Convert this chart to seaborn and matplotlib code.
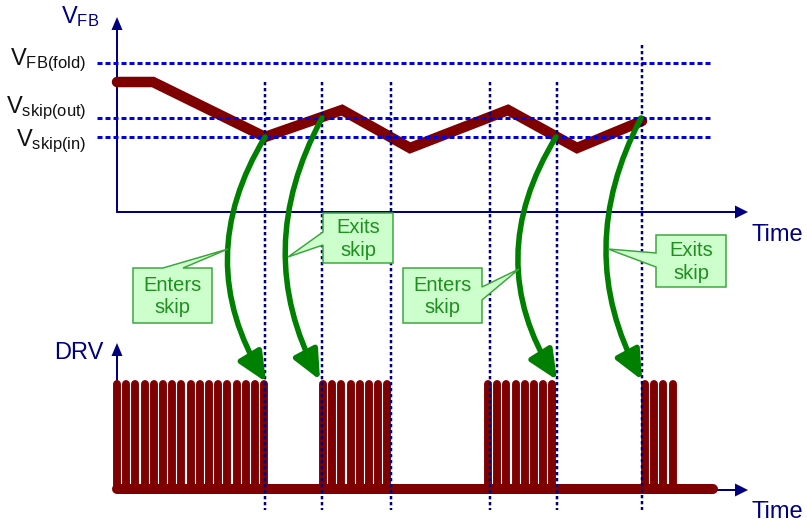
import numpy as np
import pandas as pd
import seaborn as sns
import matplotlib.pyplot as plt
from matplotlib.path import Path
from matplotlib.patches import FancyArrowPatch, Polygon

# diagram is laid out in pixel units (807 x 529, y grows downwards)
PX = 0.72  # one pixel in points at dpi=100

# V_FB waveform corners (time, level)
vfb_t = [117, 153, 265, 342, 410, 508, 577, 642]
vfb_v = [82, 82, 137, 110, 148, 110, 148, 121]

# threshold levels and their names
levels = [63, 118, 137]
level_names = [r'$\mathrm{V_{FB(fold)}}$', r'$\mathrm{V_{skip(out)}}$', r'$\mathrm{V_{skip(in)}}$']
level_base = [65, 113, 146]

# skip enter / exit instants
events = [265, 322, 391, 490, 557, 642]
event_top = [82, 82, 82, 82, 82, 45]

# DRV bursts
burst_start = [117, 323, 488, 645]
burst_pulses = [17, 8, 8, 4]
period = 9.2

# green arrows: start on V_FB, bend, end on DRV
arrow_from = [(265, 137), (322, 118), (556, 137), (641, 118)]
arrow_bend = [(191, 259), (251, 250), (481, 259), (572, 250)]
arrow_to = [(266, 382), (320, 380), (557, 380), (642, 380)]

# callouts: text, box (x0, y0, x1, y1), pointer base points, pointer tip
call_text = ['Enters\nskip', 'Exits\nskip', 'Enters\nskip', 'Exits\nskip']
call_box = [(133, 268, 212, 323), (323, 213, 393, 263), (403, 268, 482, 323), (656, 235, 726, 287)]
call_base = [((163, 268), (183, 268)), ((323, 245), (323, 232)),
             ((482, 287), (482, 300)), ((656, 267), (656, 253))]
call_tip = [(228, 249), (288, 257), (519, 269), (608, 249)]

sns.set_style("white")
plt.rcParams['font.family'] = ['Liberation Sans', 'DejaVu Sans']
plt.rcParams['mathtext.fontset'] = 'custom'
plt.rcParams['mathtext.rm'] = 'Liberation Sans'
plt.rcParams['mathtext.it'] = 'Liberation Sans:italic'
plt.rcParams['lines.scale_dashes'] = False

navy = '#00007f'
blue = '#0000e6'
red = '#7f0000'
green = '#008000'

fig = plt.figure(figsize=(8.07, 5.29), dpi=100)
ax = fig.add_axes([0, 0, 1, 1])
ax.set_xlim(0, 807)
ax.set_ylim(529, 0)
ax.axis('off')

# axes with arrowheads
def axis_arrow(x0, y0, x1, y1):
    ax.plot([x0, x1], [y0, y1], color=navy, linewidth=2 * PX, zorder=2)
    if x0 == x1:
        tri = [(x1, y1 - 13), (x1 - 5.5, y1), (x1 + 5.5, y1)]
    else:
        tri = [(x1 + 13, y1), (x1, y1 - 6.5), (x1, y1 + 6.5)]
    ax.add_patch(Polygon(tri, closed=True, color=navy, lw=0, zorder=2))

axis_arrow(117, 212, 117, 30)
axis_arrow(117, 212, 735, 212)
axis_arrow(117, 490, 117, 356)
axis_arrow(117, 490, 735, 490)

# V_FB waveform
wave = pd.DataFrame({'t': vfb_t, 'v': vfb_v})
sns.lineplot(data=wave, x='t', y='v', sort=False, color=red, ax=ax, zorder=3)
for ln in ax.lines[-1:]:
    ln.set_linewidth(10.5 * PX)
    ln.set_solid_capstyle('round')
    ln.set_solid_joinstyle('miter')

# DRV pulses
for s, n in zip(burst_start, burst_pulses):
    for k in range(n):
        x = s + k * period
        ax.plot([x, x], [489, 384], color=red, linewidth=7.9 * PX,
                solid_capstyle='round', zorder=3)
ax.plot([117, 713], [489, 489], color=red, linewidth=10 * PX, solid_capstyle='round', zorder=3)

# threshold lines
for lv in levels:
    ax.plot([97, 712], [lv, lv], color=blue, linewidth=3 * PX, dashes=(5 * PX, 3 * PX), zorder=4)
for ev, top in zip(events, event_top):
    ax.plot([ev, ev], [top, 510], color=navy, linewidth=2.5 * PX,
            dashes=(3.3 * PX, 2.7 * PX), zorder=4)

# labels
for name, base in zip(level_names, level_base):
    ax.text(86, base, name, ha='right', va='baseline', fontsize=17, color='#111111')
ax.text(61, 23, r'$\mathrm{V_{FB}}$', ha='left', va='baseline', fontsize=17, color=navy)
ax.text(103, 359, 'DRV', ha='right', va='baseline', fontsize=17, color=navy)
ax.text(751, 235, 'Time', ha='left', va='center', fontsize=17, color=navy)
ax.text(751, 512, 'Time', ha='left', va='center', fontsize=17, color=navy)

# curved green arrows
for p0, c, p2 in zip(arrow_from, arrow_bend, arrow_to):
    path = Path([p0, c, p2], [Path.MOVETO, Path.CURVE3, Path.CURVE3])
    arr = FancyArrowPatch(path=path, arrowstyle='-|>,head_length=1.1,head_width=0.5',
                          mutation_scale=16, color=green, lw=5.5 * PX, zorder=6)
    ax.add_patch(arr)

# callout boxes
for txt, (x0, y0, x1, y1), (b1, b2), tip in zip(call_text, call_box, call_base, call_tip):
    if b1[1] == y0 and b2[1] == y0:        # pointer on top edge
        pts = [(x0, y0), b1, tip, b2, (x1, y0), (x1, y1), (x0, y1)]
    elif b1[0] == x0:                      # pointer on left edge
        pts = [(x0, y0), (x1, y0), (x1, y1), (x0, y1), b1, tip, b2]
    else:                                  # pointer on right edge
        pts = [(x0, y0), (x1, y0), b1, tip, b2, (x1, y1), (x0, y1)]
    ax.add_patch(Polygon(pts, closed=True, facecolor='#ccffcc', edgecolor='#3da53d',
                         lw=1.5 * PX, zorder=7, joinstyle='miter'))
    ax.text((x0 + x1) / 2, (y0 + y1) / 2 + 1, txt, ha='center', va='center',
            fontsize=14.5, color='#1f8f1f', linespacing=1.25, zorder=8)

fig.savefig('out.png', dpi=100)
